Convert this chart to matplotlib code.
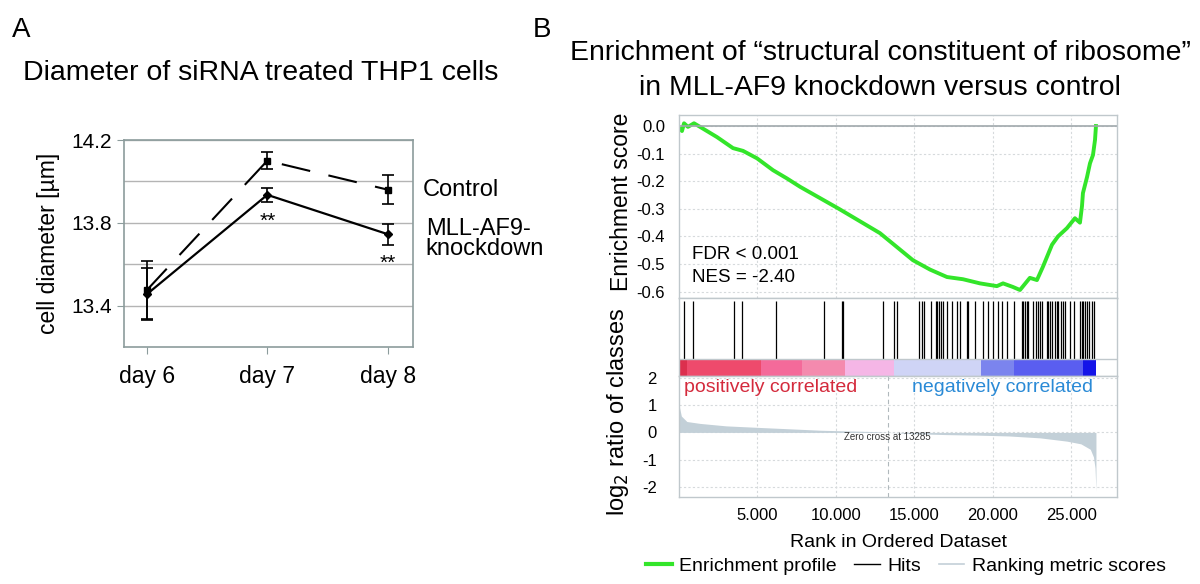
import matplotlib
matplotlib.use("Agg")
import matplotlib.pyplot as plt
from matplotlib.lines import Line2D

plt.rcParams["font.family"] = ["Liberation Sans", "DejaVu Sans"]

# panel A: cell diameter
days = ["day 6", "day 7", "day 8"]
control_mean = [13.475, 14.10, 13.96]
control_err = [0.14, 0.04, 0.07]
kd_mean = [13.455, 13.935, 13.745]
kd_err = [0.125, 0.035, 0.05]
signif = ["", "**", "**"]

# panel B: GSEA running enrichment score
es_rank = [0, 190, 320, 570, 955, 1340, 2420, 3440, 4080, 4970, 5990, 6880, 7710,
           10190, 12800, 14900, 15990, 17070, 18090, 19170, 20250, 20640, 21270,
           21720, 22350, 22800, 23180, 23760, 24140, 24710, 25220, 25540, 25670,
           25730, 25990, 26180, 26370, 26500, 26560]
es_value = [-0.007, -0.018, 0.01, -0.003, 0.01, -0.003, -0.04, -0.08, -0.09, -0.117,
            -0.16, -0.19, -0.22, -0.30, -0.388, -0.486, -0.52, -0.547, -0.555,
            -0.57, -0.58, -0.57, -0.583, -0.594, -0.55, -0.558, -0.51, -0.43,
            -0.40, -0.37, -0.334, -0.35, -0.29, -0.243, -0.185, -0.135, -0.105,
            -0.05, 0.0]

hits = [320, 890, 3500, 4010, 6180, 9240, 10380, 10450, 12990, 13690, 13890,
        15290, 15480, 15600, 16050, 16370, 16430, 16560, 16690, 16820, 17070,
        17390, 17710, 17900, 18340, 18410, 18850, 19360, 19680, 20000, 20320,
        20570, 20890, 21340, 21850, 21910, 22040, 22160, 22230, 22550, 22740,
        22860, 22990, 23120, 23440, 23500, 23630, 23760, 23950, 24070, 24140,
        24330, 24460, 24580, 24900, 25160, 25540, 25670, 25730, 25860, 25990,
        26110, 26300, 26430]

metric_rank = [0, 150, 500, 1340, 3000, 5200, 7500, 9000, 11000, 12500, 13285,
               15000, 17000, 19000, 21000, 23000, 24700, 25600, 26200, 26400,
               26500, 26560]
metric_value = [1.0, 0.6, 0.4, 0.33, 0.24, 0.18, 0.12, 0.08, 0.05, 0.03, 0.0,
                -0.05, -0.08, -0.1, -0.13, -0.2, -0.32, -0.42, -0.62, -0.9,
                -1.3, -2.15]
zero_cross = 13285

band_edges = [0, 500, 5220, 7830, 10570, 13700, 19240, 21340, 25730, 26560]
band_colors = ["#dc2f4e", "#ee4a6c", "#f46a9a", "#f48aae", "#f5b6e6",
               "#cfd4f6", "#7b84ee", "#5a5ef0", "#1414e8"]

fig = plt.figure(figsize=(12, 5.84), dpi=100)
W, H = 1200, 584


def box(l, t, r, b):
    return [l / W, 1 - b / H, (r - l) / W, (b - t) / H]


# ---------------- panel A ----------------
fig.text(12 / W, 1 - 30 / H, "A", fontsize=20, va="center")
fig.text(23 / W, 1 - 73 / H, "Diameter of siRNA treated THP1 cells",
         fontsize=20.5, va="center")

ax = fig.add_axes(box(124, 140, 413, 347))
x = list(range(len(days)))
ax.errorbar(x, control_mean, yerr=control_err, color="black", lw=1.5,
            marker="s", ms=5, capsize=4, elinewidth=1.2, capthick=1.2,
            dashes=[14, 9])
ax.errorbar(x, kd_mean, yerr=kd_err, color="black", lw=1.6,
            marker="D", ms=4.5, capsize=4, elinewidth=1.2, capthick=1.2)
for xi, s, m, e in zip(x, signif, kd_mean, kd_err):
    if s:
        ax.text(xi, m - e - 0.045, s, ha="center", va="top", fontsize=15)
ax.set_xlim(-0.19, 2.21)
ax.set_ylim(13.2, 14.2)
ax.set_xticks(x)
ax.set_xticklabels(days, fontsize=16.5)
ax.set_yticks([13.4, 13.8, 14.2])
ax.set_yticklabels(["13.4", "13.8", "14.2"], fontsize=15)
ax.set_yticks([13.6, 14.0], minor=True)
ax.tick_params(axis="y", which="minor", length=0)
ax.tick_params(axis="both", which="major", length=5, color="#8c9c9c")
ax.tick_params(axis="x", pad=8)
ax.grid(axis="y", which="both", color="#b4b4b4", lw=1)
ax.set_axisbelow(True)
for sp in ax.spines.values():
    sp.set_color("#8c9c9c")
    sp.set_linewidth(1.2)
ax.set_ylabel("cell diameter [\u00b5m]", fontsize=16.5, labelpad=8)
ax.text(2.29, control_mean[2], "Control", fontsize=17, va="center", clip_on=False)
ax.text(2.315, 13.768, "MLL-AF9-", fontsize=17, va="center", clip_on=False)
ax.text(2.315, 13.672, "knockdown", fontsize=17, va="center", clip_on=False)

# ---------------- panel B ----------------
fig.text(533 / W, 1 - 30 / H, "B", fontsize=20, va="center")
fig.text(880 / W, 1 - 53 / H,
         "Enrichment of \u201cstructural constituent of ribosome\u201d",
         fontsize=20.4, ha="center", va="center")
fig.text(880 / W, 1 - 88 / H, "in MLL-AF9 knockdown versus control",
         fontsize=20.4, ha="center", va="center")

spine_c = "#c0c8cc"
grid_kw = dict(color="#d6dadc", lw=0.8, ls=(0, (2, 2)))
xmax = 27900

ax1 = fig.add_axes(box(679, 115, 1117, 298))
ax1.plot(es_rank, es_value, color="#33e52a", lw=2.8)
ax1.axhline(0, color="#a0a8ac", lw=1.2)
ax1.set_xlim(0, xmax)
ax1.set_ylim(-0.623, 0.04)
ax1.set_yticks([0.0, -0.1, -0.2, -0.3, -0.4, -0.5, -0.6])
ax1.set_yticklabels(["0.0", "-0.1", "-0.2", "-0.3", "-0.4", "-0.5", "-0.6"],
                    fontsize=12)
ax1.set_xticks([5000, 10000, 15000, 20000, 25000])
ax1.set_xticklabels([])
ax1.tick_params(length=0, pad=10)
ax1.grid(True, **grid_kw)
ax1.set_axisbelow(True)
ax1.text(830, -0.464, "FDR < 0.001", fontsize=13.5, va="center")
ax1.text(830, -0.547, "NES = -2.40", fontsize=13.5, va="center")

ax2 = fig.add_axes(box(679, 298, 1117, 376))
ax2.set_xlim(0, xmax)
ax2.set_ylim(0, 1)
ax2.vlines(hits, 0.218, 0.96, color="black", lw=0.9)
for i, c in enumerate(band_colors):
    ax2.axvspan(band_edges[i], band_edges[i + 1], ymin=0, ymax=0.218,
                color=c, lw=0)
ax2.axhline(0.218, color=spine_c, lw=1)
ax2.set_xticks([])
ax2.set_yticks([])

ax3 = fig.add_axes(box(679, 376, 1117, 497))
ax3.fill_between(metric_rank, metric_value, 0, color="#c3d0d8", lw=0)
ax3.axvline(zero_cross, color="#b0b8bc", lw=0.8, ls=(0, (4, 3)))
ax3.set_xlim(0, xmax)
ax3.set_ylim(-2.37, 2.07)
ax3.set_yticks([2, 1, 0, -1, -2])
ax3.set_yticklabels(["2", "1", "0", "-1", "-2"], fontsize=12)
ax3.set_xticks([5000, 10000, 15000, 20000, 25000])
ax3.set_xticklabels(["5.000", "10.000", "15.000", "20.000", "25.000"],
                    fontsize=12)
ax3.tick_params(length=0, pad=8)
ax3.tick_params(axis="y", pad=16)
ax3.grid(True, **grid_kw)
ax3.set_axisbelow(True)
ax3.text(zero_cross, -0.15, "Zero cross at 13285", fontsize=7, ha="center",
         va="center", color="#333333")
ax3.text(320, 1.65, "positively correlated", fontsize=14, color="#d42a3c",
         va="center")
ax3.text(26400, 1.65, "negatively correlated", fontsize=14, color="#2a8ad6",
         va="center", ha="right")
ax3.set_xlabel("Rank in Ordered Dataset", fontsize=14, labelpad=8)

for a in (ax1, ax2, ax3):
    for sp in a.spines.values():
        sp.set_color(spine_c)
        sp.set_linewidth(1)

fig.text(622 / W, 1 - 202 / H, "Enrichment score", fontsize=16.5,
         rotation=90, ha="center", va="center")
fig.text(618 / W, 1 - 412 / H, "log$_2$ ratio of classes", fontsize=17,
         rotation=90, ha="center", va="center")

handles = [Line2D([], [], color="#33e52a", lw=3),
           Line2D([], [], color="black", lw=1),
           Line2D([], [], color="#c3d0d8", lw=1.2)]
fig.legend(handles, ["Enrichment profile", "Hits", "Ranking metric scores"],
           loc="center", bbox_to_anchor=(906 / W, 1 - 566 / H), ncol=3,
           frameon=False, fontsize=14, handlelength=1.3, handletextpad=0.4,
           columnspacing=0.9, borderpad=0)

fig.savefig("out.png", dpi=100)
